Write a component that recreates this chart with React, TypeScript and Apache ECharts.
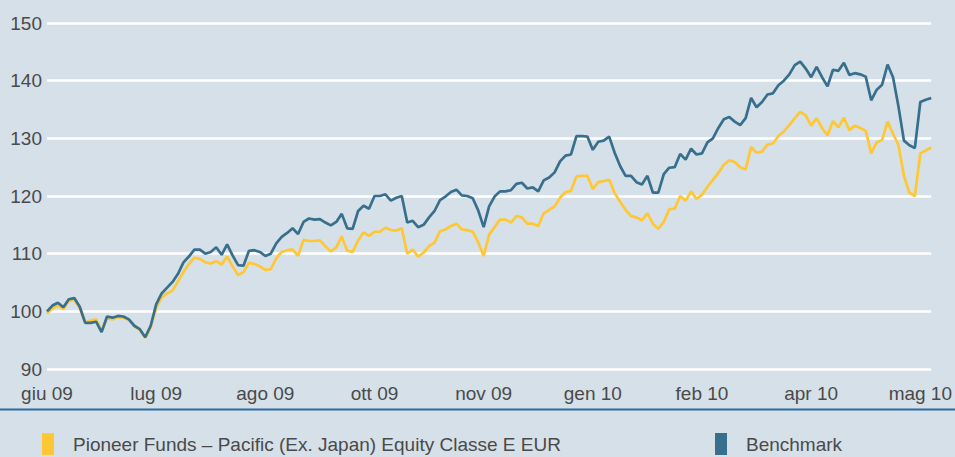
import React, { useEffect, useRef } from "react";
import * as echarts from "echarts";

const tickLabels = ["giu 09", "lug 09", "ago 09", "ott 09", "nov 09", "gen 10", "feb 10", "apr 10", "mag 10"];
const labelEvery = 20;

const fundName = "Pioneer Funds – Pacific (Ex. Japan) Equity Classe E EUR";
const benchName = "Benchmark";

const fundValues = [
  99.6, 100.5, 101, 100.4, 101.8, 102, 100.6, 98.1, 98.4, 98.6,
  96.5, 98.8, 98.6, 99, 98.9, 98.5, 97.4, 96.8, 95.4, 97.2,
  100.6, 102.4, 103.1, 103.6, 105.2, 106.8, 108.2, 109.3, 109.1, 108.5,
  108.3, 108.7, 108.1, 109.5, 107.8, 106.3, 106.8, 108.4, 108.2, 107.8,
  107.2, 107.3, 109.2, 110.3, 110.6, 110.7, 109.6, 112.4, 112.2, 112.2,
  112.3, 111.3, 110.4, 111.1, 113, 110.5, 110.3, 112.3, 113.7, 113.1,
  113.8, 113.8, 114.5, 114.1, 114, 114.4, 110, 110.7, 109.5, 110.2,
  111.3, 111.9, 113.9, 114.2, 114.8, 115.2, 114.2, 114.1, 113.8, 112,
  109.6, 113.3, 114.6, 115.9, 115.9, 115.4, 116.5, 116.3, 115.2, 115.2,
  114.8, 117, 117.6, 118.2, 119.7, 120.7, 120.9, 123.4, 123.5, 123.5,
  121.2, 122.4, 122.6, 122.8, 120.5, 119, 117.6, 116.5, 116.3, 115.8,
  117, 115.2, 114.3, 115.5, 117.7, 117.8, 120, 119.2, 120.8, 119.5,
  120.2, 121.6, 122.8, 124, 125.4, 126.2, 125.9, 125, 124.6, 128.5,
  127.5, 127.7, 128.9, 129.1, 130.4, 131.2, 132.3, 133.5, 134.6, 134,
  132.2, 133.5, 131.8, 130.5, 133, 131.9, 133.6, 131.4, 132.2, 131.8,
  131.3, 127.4, 129.3, 129.7, 132.9, 130.8, 128.8, 123.5, 120.6, 120,
  127.4, 127.9, 128.4
];

const benchValues = [
  100, 101, 101.5, 100.7, 102.1, 102.3, 100.8, 98, 98, 98.2,
  96.4, 99.1, 98.9, 99.2, 99.1, 98.6, 97.5, 96.9, 95.5, 97.5,
  101.2, 103.1, 104.1, 105.1, 106.5, 108.5, 109.5, 110.7, 110.7, 110,
  110.3, 111.1, 109.8, 111.6, 109.7, 108, 107.9, 110.5, 110.6, 110.3,
  109.6, 110, 111.8, 112.9, 113.6, 114.4, 113.4, 115.5, 116.1, 115.9,
  116, 115.4, 114.9, 115.5, 116.9, 114.4, 114.3, 117.4, 118.3, 117.8,
  120, 120, 120.3, 119.2, 119.7, 120, 115.4, 115.7, 114.6, 115,
  116.3, 117.4, 119.3, 119.9, 120.7, 121.1, 120.1, 120, 119.6, 117.5,
  114.6, 118.2, 119.9, 120.8, 120.8, 121, 122.1, 122.3, 121.3, 121.5,
  120.8, 122.7, 123.2, 124.1, 126, 127, 127.2, 130.4, 130.4, 130.3,
  128, 129.4, 129.6, 130.3, 127.5, 125.2, 123.5, 123.5, 122.4, 122,
  123.5, 120.6, 120.6, 123.8, 124.9, 125, 127.3, 126.3, 128.2, 127.2,
  127.4, 129.3, 130, 131.8, 133.3, 133.7, 132.9, 132.3, 133.5, 137,
  135.4, 136.3, 137.6, 137.8, 139.2, 140, 141.1, 142.7, 143.3, 142.1,
  140.6, 142.4, 140.6, 139, 141.9, 141.7, 143.1, 141, 141.3, 141.1,
  140.7, 136.6, 138.4, 139.3, 142.8, 140.6, 135.5, 129.6, 128.8, 128.3,
  136.3, 136.7, 137
];

const categories = benchValues.map((_, i) =>
  i % labelEvery === 0 && tickLabels[i / labelEvery] ? tickLabels[i / labelEvery] : ""
);

const FONT = "'Liberation Sans Narrow', 'Liberation Sans', Arial, sans-serif";
const TEXT = "#4a4a4a";
const BG = "#d6e0e8";
const YELLOW = "#ffc733";
const BLUE = "#376f8c";

export default function App() {
  const ref = useRef<HTMLDivElement>(null);
  useEffect(() => {
    if (!ref.current) return;
    const chart = echarts.init(ref.current, null, { renderer: "svg" });
    chart.setOption({
      animation: false,
      backgroundColor: BG,
      grid: { left: 47, right: 22, top: 23, bottom: 88, containLabel: false },
      xAxis: {
        type: "category",
        data: categories,
        boundaryGap: false,
        axisLine: { show: false },
        axisTick: { show: false },
        splitLine: { show: false },
        axisLabel: {
          interval: labelEvery - 1,
          color: TEXT,
          fontFamily: FONT,
          fontSize: 19,
          margin: 15,
          hideOverlap: false,
        },
      },
      yAxis: {
        type: "value",
        min: 90,
        max: 150,
        interval: 10,
        axisLine: { show: false },
        axisTick: { show: false },
        axisLabel: { color: TEXT, fontFamily: FONT, fontSize: 19, margin: 5 },
        splitLine: { lineStyle: { color: "#ffffff", width: 2.5 } },
      },
      legend: [
        {
          data: [fundName],
          left: 42,
          top: 433,
          padding: 0,
          icon: "rect",
          itemWidth: 12,
          itemHeight: 22,
          textStyle: { color: TEXT, fontFamily: FONT, fontSize: 19, padding: [0, 0, 0, 14] },
          selectedMode: false,
        },
        {
          data: [benchName],
          left: 715,
          top: 433,
          padding: 0,
          icon: "rect",
          itemWidth: 12,
          itemHeight: 22,
          textStyle: { color: TEXT, fontFamily: FONT, fontSize: 19, padding: [0, 0, 0, 14] },
          selectedMode: false,
        },
      ],
      graphic: [
        {
          type: "line",
          shape: { x1: 0, y1: 409.5, x2: 955, y2: 409.5 },
          style: { stroke: "#2d6aa0", lineWidth: 2 },
          silent: true,
        },
      ],
      series: [
        {
          name: fundName,
          type: "line",
          data: fundValues,
          symbol: "none",
          itemStyle: { color: YELLOW },
          lineStyle: { color: YELLOW, width: 2.7 },
        },
        {
          name: benchName,
          type: "line",
          data: benchValues,
          symbol: "none",
          itemStyle: { color: BLUE },
          lineStyle: { color: BLUE, width: 2.7 },
        },
      ],
    });
    return () => chart.dispose();
  }, []);
  return (
    <div
      ref={ref}
      style={{ position: "fixed", left: 0, top: 0, width: 955, height: 457, background: BG }}
    />
  );
}
